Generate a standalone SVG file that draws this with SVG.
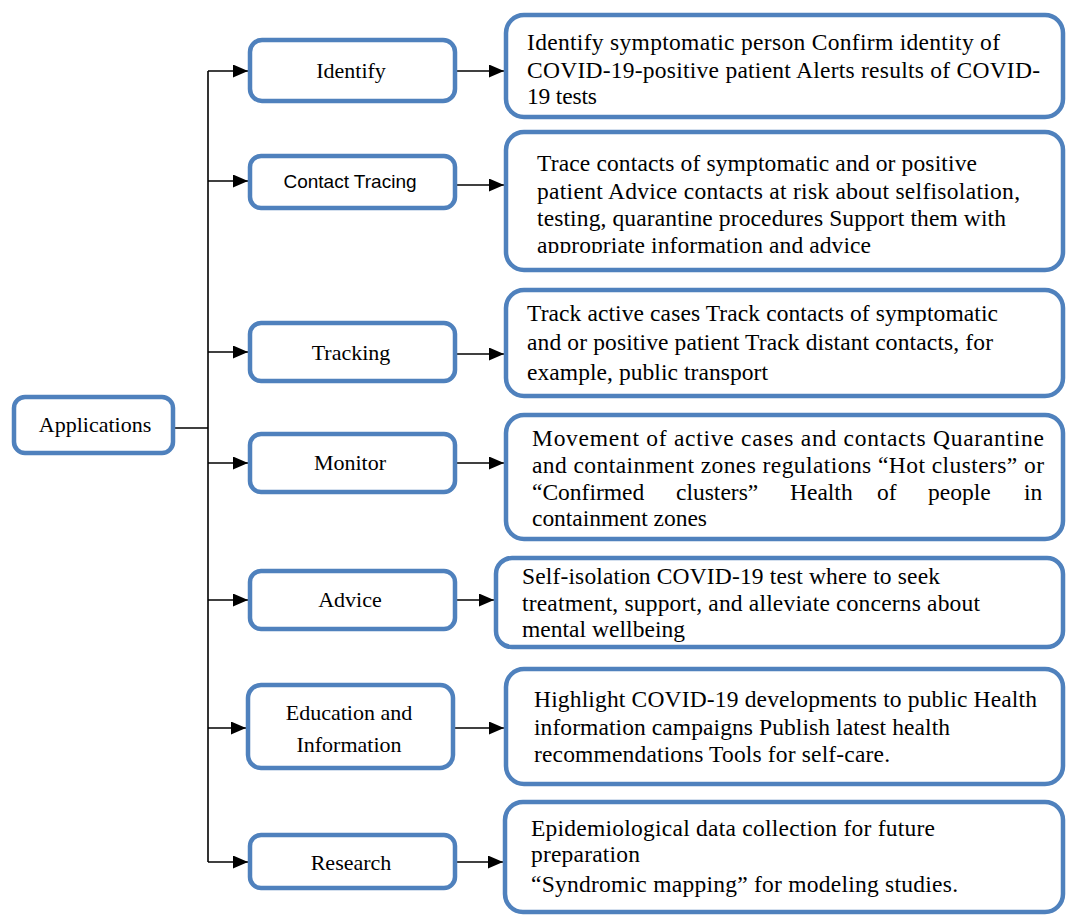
<svg xmlns="http://www.w3.org/2000/svg" width="1067" height="917" viewBox="0 0 1067 917">
<style>
.box{fill:#fff;stroke:#4F81BD;stroke-width:4.5}
.t{font-family:"Liberation Serif","Times New Roman",serif;font-size:23.5px;fill:#000}
.lbl{font-family:"Liberation Serif","Times New Roman",serif;font-size:22px;fill:#000;text-anchor:middle}
.sans{font-family:"Liberation Sans",Arial,sans-serif;font-size:19px;fill:#000;text-anchor:middle}
.c{stroke:#000;stroke-width:1.6;fill:none}
</style>
<defs>
<marker id="ah" markerUnits="userSpaceOnUse" markerWidth="15" markerHeight="13" refX="15" refY="6.5" orient="auto">
<path d="M0,0 L15,6.5 L0,13 z" fill="#000"/>
</marker>
<clipPath id="clip2"><rect x="506" y="132" width="557" height="121"/></clipPath>
</defs>
<g id="connectors">
<path class="c" d="M173,428 H208"/>
<path class="c" d="M208,71 V862"/>
<path class="c" d="M208,71 H248" marker-end="url(#ah)"/>
<path class="c" d="M208,181 H248" marker-end="url(#ah)"/>
<path class="c" d="M208,352 H248" marker-end="url(#ah)"/>
<path class="c" d="M208,463 H248" marker-end="url(#ah)"/>
<path class="c" d="M208,600 H248" marker-end="url(#ah)"/>
<path class="c" d="M208,728 H246" marker-end="url(#ah)"/>
<path class="c" d="M208,862 H248" marker-end="url(#ah)"/>
<path class="c" d="M455,71 H504" marker-end="url(#ah)"/>
<path class="c" d="M455,185 H504" marker-end="url(#ah)"/>
<path class="c" d="M455,354 H504" marker-end="url(#ah)"/>
<path class="c" d="M455,463 H504" marker-end="url(#ah)"/>
<path class="c" d="M455,600 H494" marker-end="url(#ah)"/>
<path class="c" d="M453,728 H504" marker-end="url(#ah)"/>
<path class="c" d="M455,862 H503" marker-end="url(#ah)"/>
</g>
<g id="applications">
<rect class="box" x="14" y="397" width="159" height="56" rx="11"/>
<text class="lbl" x="95" y="432">Applications</text>
</g>
<g id="identify">
<rect class="box" x="250" y="40" width="205" height="61" rx="12"/>
<text class="lbl" x="351" y="78">Identify</text>
</g>
<g id="contact-tracing">
<rect class="box" x="250" y="156" width="205" height="52" rx="11"/>
<text class="sans" x="350" y="188">Contact Tracing</text>
</g>
<g id="tracking">
<rect class="box" x="250" y="323" width="205" height="58" rx="11"/>
<text class="lbl" x="351" y="360">Tracking</text>
</g>
<g id="monitor">
<rect class="box" x="250" y="434" width="205" height="58" rx="11"/>
<text class="lbl" x="350" y="470">Monitor</text>
</g>
<g id="advice">
<rect class="box" x="250" y="571" width="205" height="58" rx="11"/>
<text class="lbl" x="350" y="607">Advice</text>
</g>
<g id="education">
<rect class="box" x="248" y="685" width="205" height="83" rx="13"/>
<text class="lbl" x="349" y="720">Education and</text>
<text class="lbl" x="349" y="752">Information</text>
</g>
<g id="research">
<rect class="box" x="250" y="835" width="205" height="53" rx="11"/>
<text class="lbl" x="351" y="870">Research</text>
</g>
<g id="identify-detail">
<rect class="box" x="506" y="15" width="557" height="102" rx="18"/>
<text class="t" x="527" y="50" textLength="473" lengthAdjust="spacing">Identify symptomatic person Confirm identity of</text>
<text class="t" x="527" y="78" textLength="513" lengthAdjust="spacing">COVID-19-positive patient Alerts results of COVID-</text>
<text class="t" x="527" y="104" textLength="70" lengthAdjust="spacing">19 tests</text>
</g>
<g id="contact-detail">
<rect class="box" x="506" y="132" width="557" height="138" rx="18"/>
<g clip-path="url(#clip2)">
<text class="t" x="537" y="171" textLength="440" lengthAdjust="spacing">Trace contacts  of symptomatic  and or positive</text>
<text class="t" x="537" y="199" textLength="483" lengthAdjust="spacing">patient Advice contacts  at risk about selfisolation,</text>
<text class="t" x="537" y="226" textLength="469" lengthAdjust="spacing">testing, quarantine  procedures Support them with</text>
<text class="t" x="537" y="253" textLength="334" lengthAdjust="spacing">appropriate information  and  advice</text>
</g>
</g>
<g id="tracking-detail">
<rect class="box" x="506" y="290" width="557" height="106" rx="18"/>
<text class="t" x="527" y="321" textLength="471" lengthAdjust="spacing">Track active  cases Track contacts of symptomatic</text>
<text class="t" x="527" y="350" textLength="466" lengthAdjust="spacing">and or positive patient  Track distant contacts, for</text>
<text class="t" x="527" y="380" textLength="241" lengthAdjust="spacing">example, public transport</text>
</g>
<g id="monitor-detail">
<rect class="box" x="506" y="415" width="557" height="124" rx="18"/>
<text class="t" x="532" y="446" textLength="512" lengthAdjust="spacing">Movement  of  active  cases  and  contacts  Quarantine</text>
<text class="t" x="532" y="473" textLength="512" lengthAdjust="spacing">and  containment  zones  regulations  “Hot clusters” or</text>
<text class="t" y="500"><tspan x="532">“Confirmed</tspan><tspan x="676">clusters”</tspan><tspan x="790">Health</tspan><tspan x="877">of</tspan><tspan x="928">people</tspan><tspan x="1024">in</tspan></text>
<text class="t" x="532" y="526" textLength="175" lengthAdjust="spacing">containment zones</text>
</g>
<g id="advice-detail">
<rect class="box" x="496" y="558" width="567" height="89" rx="16"/>
<text class="t" x="522" y="584" textLength="418" lengthAdjust="spacing">Self-isolation COVID-19 test where to seek</text>
<text class="t" x="522" y="611" textLength="458" lengthAdjust="spacing">treatment, support, and  alleviate  concerns  about</text>
<text class="t" x="522" y="637" textLength="163" lengthAdjust="spacing">mental wellbeing</text>
</g>
<g id="education-detail">
<rect class="box" x="506" y="669" width="557" height="115" rx="18"/>
<text class="t" x="534" y="707" textLength="503" lengthAdjust="spacing">Highlight COVID-19 developments  to public Health</text>
<text class="t" x="534" y="735" textLength="416" lengthAdjust="spacing">information  campaigns Publish latest health</text>
<text class="t" x="534" y="762" textLength="356" lengthAdjust="spacing">recommendations  Tools  for self-care.</text>
</g>
<g id="research-detail">
<rect class="box" x="505" y="802" width="558" height="110" rx="18"/>
<text class="t" x="531" y="836" textLength="404" lengthAdjust="spacing">Epidemiological  data collection  for future</text>
<text class="t" x="531" y="862" textLength="109" lengthAdjust="spacing">preparation</text>
<text class="t" x="531" y="892" textLength="427" lengthAdjust="spacing">“Syndromic mapping”  for modeling  studies.</text>
</g>
</svg>
